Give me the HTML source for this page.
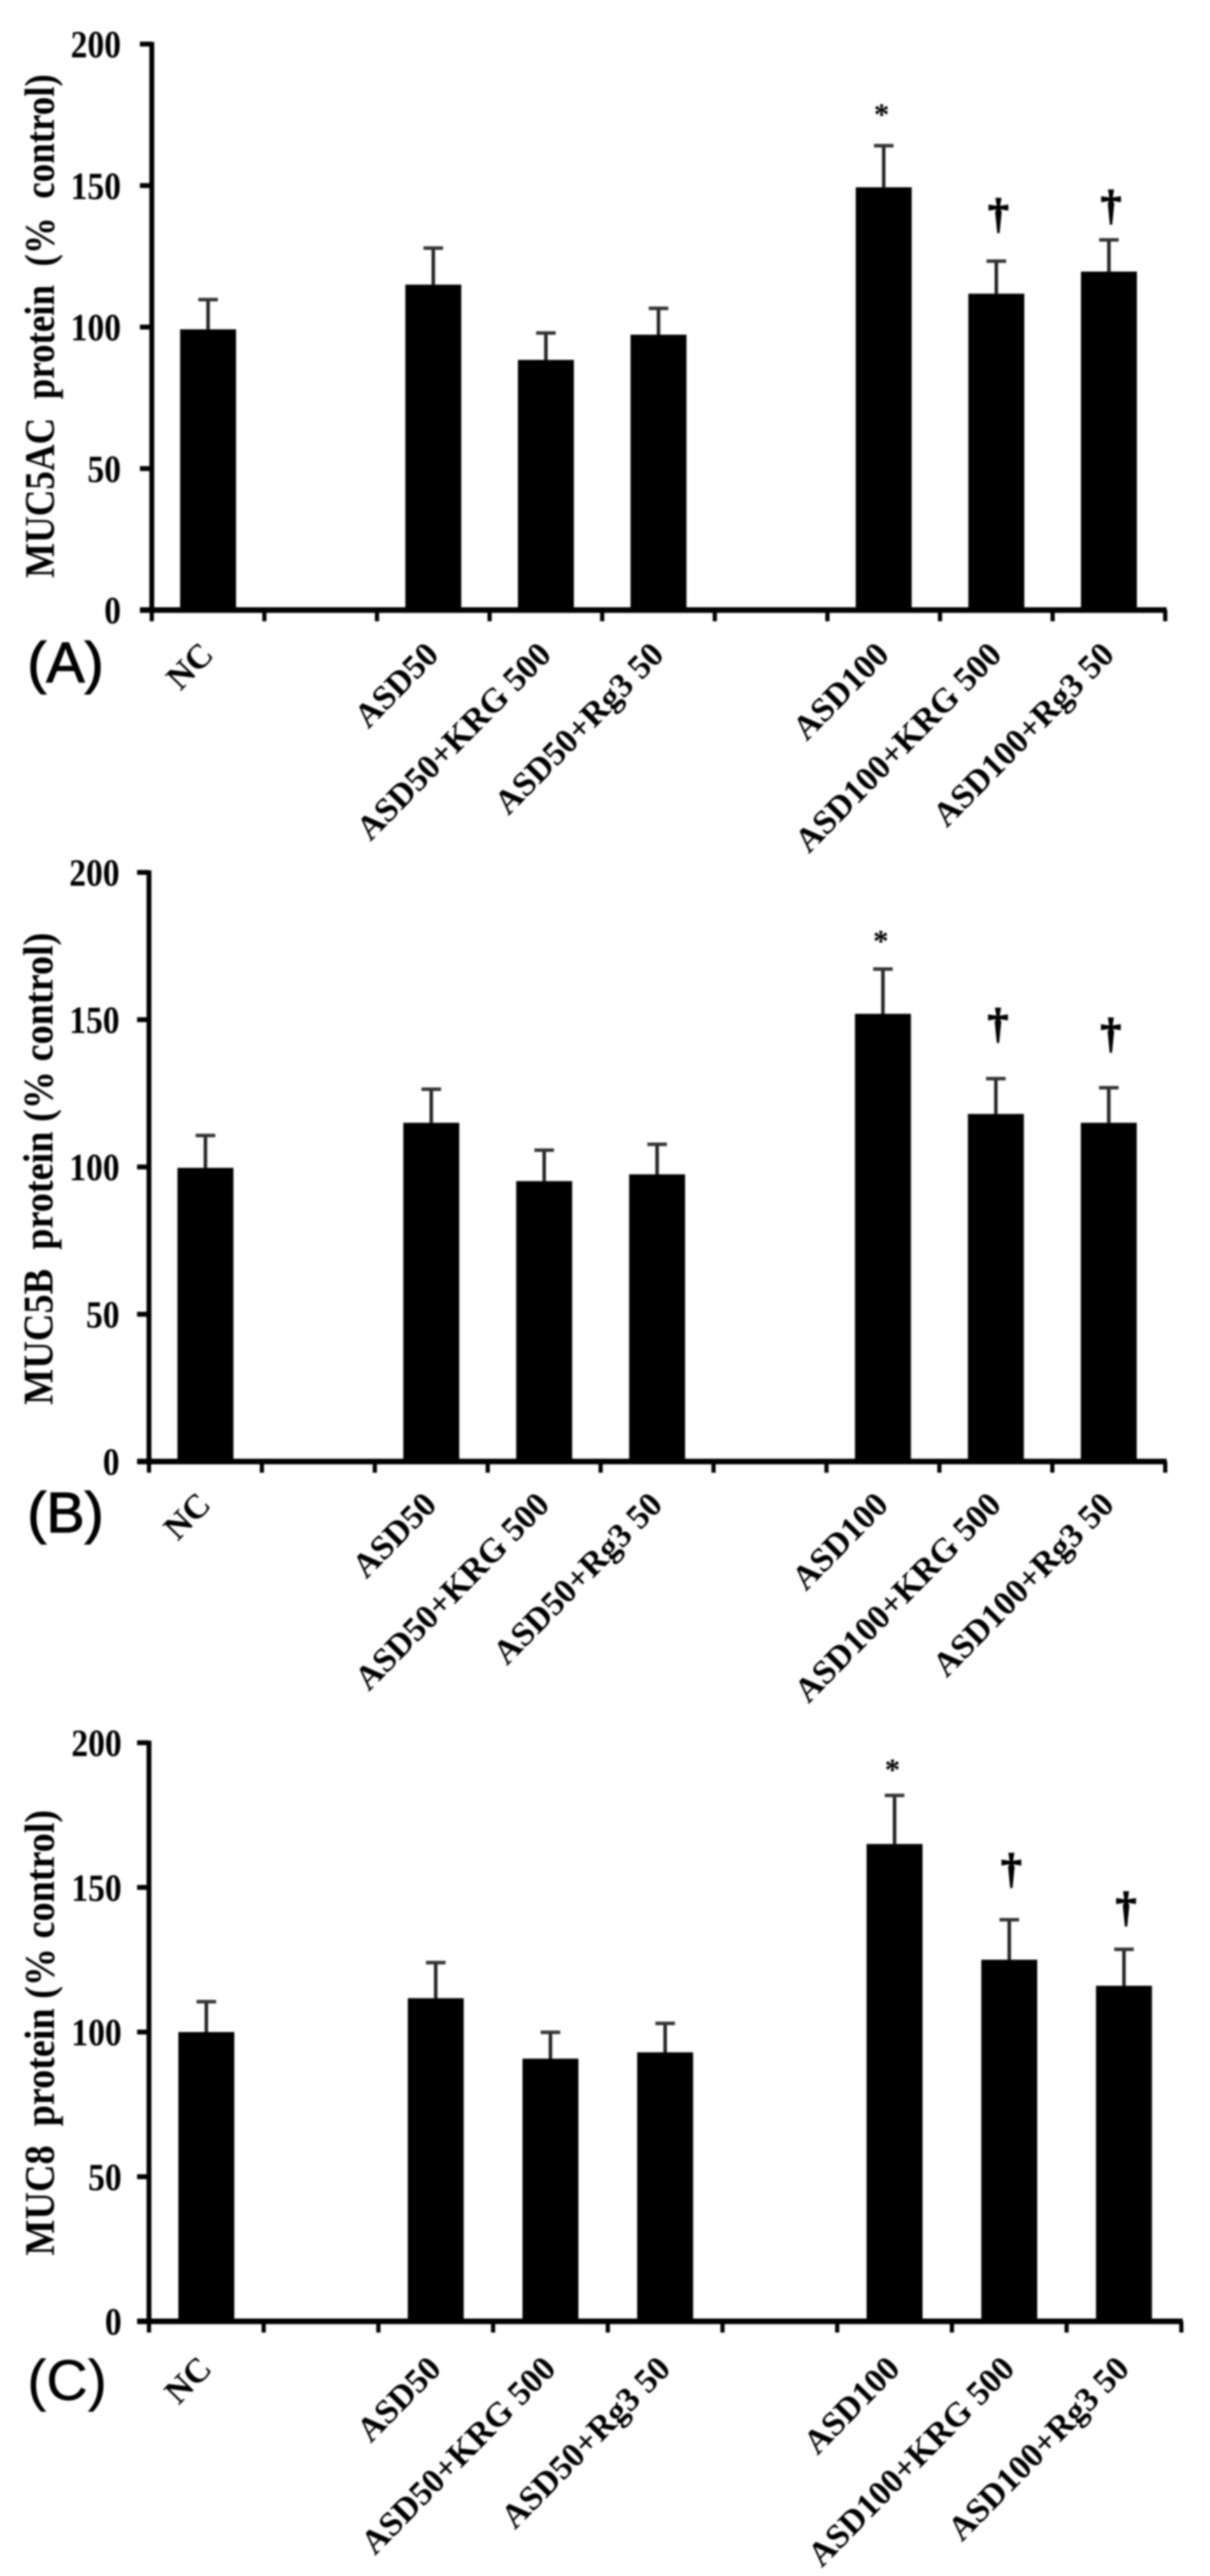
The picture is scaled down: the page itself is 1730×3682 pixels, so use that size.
<!DOCTYPE html>
<html lang="en">
<head>
<meta charset="utf-8">
<title>MUC protein bar charts</title>
<style>
  html, body { margin: 0; padding: 0; background: #fff; }
  #figure { display: block; width: 1730px; height: 3682px; filter: blur(1.3px); }
  text { font-family: "Liberation Serif", serif; fill: #000; }
  .panel-letter { font-family: "Liberation Sans", sans-serif; font-size: 82px; stroke: #000; stroke-width: 1.5px; }
  .y-title { font-size: 60px; font-weight: bold; white-space: pre; }
</style>
</head>
<body>
<svg id="figure" xmlns="http://www.w3.org/2000/svg" width="1730" height="3682" viewBox="0 0 1730 3682">
  <rect x="0" y="0" width="1730" height="3682" fill="#fff"/>

  <g id="panel-a">
    <text class="y-title" transform="translate(77,826) rotate(-90)" textLength="720" lengthAdjust="spacingAndGlyphs">MUC5AC  protein  (%  control)</text>
    <text class="panel-letter" x="39" y="975">(A)</text>
  </g>

  <g id="panel-b">
    <text class="y-title" transform="translate(75,2008) rotate(-90)" textLength="675" lengthAdjust="spacingAndGlyphs">MUC5B  protein (% control)</text>
    <text class="panel-letter" x="39" y="2190">(B)</text>
  </g>

  <g id="panel-c">
    <text class="y-title" transform="translate(77,3224) rotate(-90)" textLength="637" lengthAdjust="spacingAndGlyphs">MUC8  protein (% control)</text>
    <text class="panel-letter" x="39" y="3430" style="stroke-width:0.5px">(C)</text>
  </g>
</svg>

<script>
// Shared categories and tick labels (blank strings are empty x-axis slots)
const categories = ['NC', '', 'ASD50', 'ASD50+KRG 500', 'ASD50+Rg3 50', '', 'ASD100', 'ASD100+KRG 500', 'ASD100+Rg3 50'];
const yTicks = [0, 50, 100, 150, 200];

// Panel A: MUC5AC
const mucAMeans = [99.2, null, 115, 88.4, 97.3, null, 149.4, 111.8, 119.6];
const mucAErrorTops = [109.7, null, 127.9, 97.9, 106.6, null, 164.1, 123.3, 130.8];
const mucAMarks = ['', '', '', '', '', '', '*', '†', '†'];
const mucAMarkLevels = [null, null, null, null, null, null, 177.5, 140, 143];

// Panel B: MUC5B
const mucBMeans = [99.7, null, 115, 95.2, 97.5, null, 152, 118, 115];
const mucBErrorTops = [110.7, null, 126.4, 105.7, 107.7, null, 167.2, 130, 126.9];
const mucBMarks = ['', '', '', '', '', '', '*', '†', '†'];
const mucBMarkLevels = [null, null, null, null, null, null, 179, 148.7, 145.4];

// Panel C: MUC8
const mucCMeans = [100, null, 111.7, 90.8, 93, null, 165, 125, 116];
const mucCErrorTops = [110.5, null, 124, 99.9, 103, null, 181.8, 138.8, 128.6];
const mucCMarks = ['', '', '', '', '', '', '*', '†', '†'];
const mucCMarkLevels = [null, null, null, null, null, null, 193, 156.5, 143.2];

const SVG_NS = 'http://www.w3.org/2000/svg';

function make(parent, tag, attrs, content) {
  const node = document.createElementNS(SVG_NS, tag);
  Object.keys(attrs).forEach(function (key) { node.setAttribute(key, attrs[key]); });
  if (content !== undefined) node.textContent = content;
  parent.appendChild(node);
  return node;
}

function drawPanel(cfg) {
  const group = document.getElementById(cfg.id);
  const yScale = function (v) { return cfg.y0 - (v / 200) * (cfg.y0 - cfg.y200); };
  const slotWidth = (cfg.x1 - cfg.x0) / categories.length;
  const xEdge = function (i) { return cfg.x0 + i * slotWidth; };
  const xCenter = function (i) { return xEdge(i) + slotWidth / 2; };

  cfg.means.forEach(function (value, i) {
    if (value === null) return;
    const cx = xCenter(i);
    const slug = cfg.prefix + '-' + categories[i].toLowerCase().replace(/[^a-z0-9]+/g, '-');

    const stem = make(group, 'line', { x1: cx, x2: cx, y1: yScale(value), y2: yScale(cfg.errorTops[i]), stroke: '#222', 'stroke-width': 5 });
    
    

    const cap = make(group, 'line', { x1: cx - 14, x2: cx + 14, y1: yScale(cfg.errorTops[i]), y2: yScale(cfg.errorTops[i]), stroke: '#333', 'stroke-width': 5 });
    
    

    const bar = make(group, 'rect', { x: cx - 40, y: yScale(value), width: 80, height: yScale(0) - yScale(value), fill: '#000' });
    
    

    if (cfg.marks[i]) {
      const isStar = cfg.marks[i] === '*';
      const mark = make(group, 'text', {
        x: cx + (isStar ? -3 : 3),
        y: yScale(cfg.markLevels[i]) + (isStar ? 24 : 20),
        'text-anchor': 'middle',
        'font-weight': 'bold',
        'font-size': isStar ? 44 : 60,
        stroke: '#000',
        'stroke-width': isStar ? 0 : 1.5
      }, cfg.marks[i]);
      
      
    }

    const label = make(group, 'text', {
      transform: 'translate(' + (cx + 10) + ',' + (yScale(0) + cfg.labelDrop) + ') rotate(-45.5)',
      'text-anchor': 'end',
      'font-weight': 'bold',
      'font-size': 49
    }, categories[i]);
    
    
  });

  const yAxis = make(group, 'line', { x1: cfg.x0, x2: cfg.x0, y1: yScale(200) - 3, y2: yScale(0) + 4, stroke: '#000', 'stroke-width': 7 });
  
  

  const xAxis = make(group, 'line', { x1: cfg.x0 - 17, x2: cfg.x1 + 2, y1: yScale(0), y2: yScale(0), stroke: '#000', 'stroke-width': 8 });
  
  

  yTicks.forEach(function (tick) {
    const mark = make(group, 'line', { x1: cfg.x0 - 17, x2: cfg.x0, y1: yScale(tick), y2: yScale(tick), stroke: '#000', 'stroke-width': 7 });
    
    

    const tickText = make(group, 'text', {
      transform: 'translate(' + cfg.tickRight + ',' + (yScale(tick) + 19) + ') scale(1,1.15)',
      'text-anchor': 'end',
      'font-weight': 'bold',
      'font-size': 48
    }, String(tick));
    
    
  });

  for (let i = 0; i <= categories.length; i++) {
    const mark = make(group, 'line', { x1: xEdge(i), x2: xEdge(i), y1: yScale(0), y2: yScale(0) + 16, stroke: '#000', 'stroke-width': 6 });
    
    
  }
}

drawPanel({ id: 'panel-a', prefix: 'panel-a', x0: 217, x1: 1666, y0: 872, y200: 63, tickRight: 173, labelDrop: 66, means: mucAMeans, errorTops: mucAErrorTops, marks: mucAMarks, markLevels: mucAMarkLevels });
drawPanel({ id: 'panel-b', prefix: 'panel-b', x0: 213, x1: 1666, y0: 2089, y200: 1247, tickRight: 171, labelDrop: 64, means: mucBMeans, errorTops: mucBErrorTops, marks: mucBMarks, markLevels: mucBMarkLevels });
drawPanel({ id: 'panel-c', prefix: 'panel-c', x0: 213, x1: 1689, y0: 3318, y200: 2491, tickRight: 174, labelDrop: 70, means: mucCMeans, errorTops: mucCErrorTops, marks: mucCMarks, markLevels: mucCMarkLevels });
</script>
</body>
</html>
